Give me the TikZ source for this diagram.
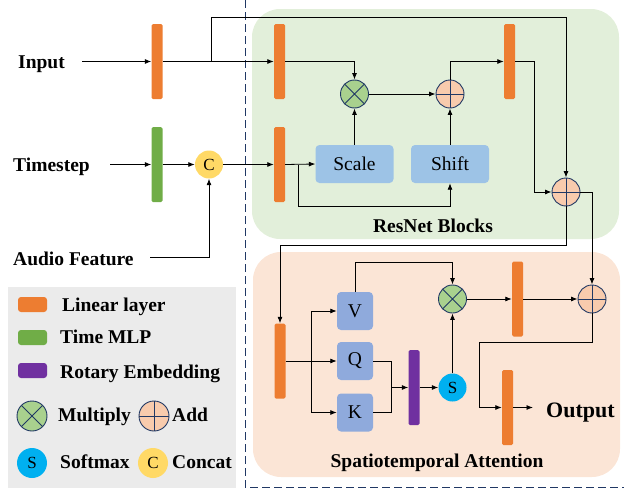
\documentclass[tikz,border=0pt]{standalone}
\usepackage{fontspec}
\setmainfont{Liberation Serif}
\usepackage{tikz}
\usetikzlibrary{arrows.meta}
\definecolor{linorange}{HTML}{ED7D31}
\definecolor{mlpgreen}{HTML}{70AD47}
\definecolor{ropepurple}{HTML}{7030A0}
\definecolor{boxblue}{HTML}{9DC3E6}
\definecolor{qkvblue}{HTML}{8FAADC}
\definecolor{mulgreen}{HTML}{A9D18E}
\definecolor{addpeach}{HTML}{F8CBAD}
\definecolor{smaxcyan}{HTML}{00B0F0}
\definecolor{catyellow}{HTML}{FFD966}
\definecolor{resbg}{HTML}{E2EFDA}
\definecolor{attbg}{HTML}{FBE5D6}
\definecolor{legbg}{HTML}{EBEBEB}
\definecolor{navyline}{HTML}{203864}

\tikzset{
  bar/.style={rectangle, rounded corners=1.5pt, minimum width=11pt, minimum height=75pt, inner sep=0pt, fill=#1},
  bar/.default=linorange,
  swatch/.style={rectangle, rounded corners=3pt, minimum width=29pt, minimum height=15pt, inner sep=0pt, fill=#1},
  mul/.style={circle, draw=navyline, line width=0.9pt, fill=mulgreen, minimum size=28pt, inner sep=0pt,
    path picture={\draw[navyline, line width=0.9pt] (path picture bounding box.center) +(45:16pt) -- +(225:16pt)
      (path picture bounding box.center) +(135:16pt) -- +(315:16pt);}},
  add/.style={circle, draw=navyline, line width=0.9pt, fill=addpeach, minimum size=28pt, inner sep=0pt,
    path picture={\draw[navyline, line width=0.9pt] (path picture bounding box.center) +(0:16pt) -- +(180:16pt)
      (path picture bounding box.center) +(90:16pt) -- +(270:16pt);}},
  dot/.style={circle, fill=#1, minimum size=28pt, inner sep=0pt, font=\fontsize{17}{19}\selectfont},
  opbox/.style={rectangle, rounded corners=4pt, fill=boxblue, minimum width=78pt, minimum height=38pt, inner sep=0pt, font=\fontsize{19.5}{22}\selectfont},
  qkv/.style={rectangle, rounded corners=4pt, fill=qkvblue, minimum width=36pt, minimum height=38pt, inner sep=0pt, font=\fontsize{19.5}{22}\selectfont},
  lbl/.style={inner sep=0pt, font=\bfseries\fontsize{19.5}{22}\selectfont},
  conn/.style={line width=0.8pt, >={Latex[length=6.5pt,width=5pt]}}
}

\begin{document}
\begin{tikzpicture}[x=1pt, y=-1pt]
\useasboundingbox (0,0) rectangle (624,490);
% backgrounds
\fill[resbg, rounded corners=28pt] (252,9) rectangle (619,239);
\fill[attbg, rounded corners=28pt] (253,252) rectangle (620,477);
\fill[legbg] (8,287) rectangle (236,488);
\draw[navyline, line width=0.9pt, dash pattern=on 8pt off 4pt] (245,0) -- (245,487) -- (624,487);

% inputs
\node[lbl, anchor=base west] (input) at (18,68) {Input};
\node[lbl, anchor=base west] (tstep) at (13,171) {Timestep};
\node[lbl, anchor=base west] (audio) at (13,265) {Audio Feature};
\coordinate (inputend) at (82,61.5);
\coordinate (tstepend) at (110,164.5);
\coordinate (audioend) at (150,257.5);
\node[bar] (lin0) at (157,61.5) {};
\node[bar=mlpgreen] (mlp) at (157,164.5) {};
\node[dot=catyellow] (cat) at (209,164.5) {C};

% ResNet blocks
\node[bar] (lin1) at (279.5,61.5) {};
\node[bar] (lin2) at (279.5,164.5) {};
\node[mul] (mul1) at (354.5,94) {};
\node[add] (add1) at (450,94) {};
\node[opbox] (scale) at (354.5,164) {Scale};
\node[opbox] (shift) at (450,164) {Shift};
\node[bar] (lin3) at (509.5,61.5) {};
\node[add] (add2) at (566,192) {};
\node[lbl, anchor=base] (resname) at (433,232) {ResNet Blocks};
\coordinate (skip) at (211,61.5);
\coordinate (sbranch) at (298,164.5);

% Spatiotemporal attention
\node[bar] (lin4) at (280,361) {};
\node[qkv] (v) at (355,311) {V};
\node[qkv] (q) at (355,361) {Q};
\node[qkv] (k) at (355,412.5) {K};
\coordinate (qbranch) at (311,361);
\coordinate (qkjoin) at (391,387.5);
\node[bar=ropepurple] (rope) at (414,387.5) {};
\node[dot=smaxcyan] (smax) at (452.5,387.5) {S};
\node[mul] (mul2) at (452.5,299) {};
\node[bar] (lin5) at (517.5,299) {};
\node[add] (add3) at (592,299) {};
\coordinate (outturn) at (479,342);
\node[bar] (lin6) at (507.5,407.5) {};
\coordinate (outend) at (533,407.5);
\node[lbl, anchor=base west, font=\bfseries\fontsize{22}{24}\selectfont] (output) at (546,417) {Output};
\node[lbl, anchor=base] (attname) at (437,467) {Spatiotemporal Attention};

% connectors
\begin{scope}[conn]
\draw[->] (inputend) -- (lin0.west);
\draw[->] (lin0.east) -- (lin1.west);
\draw[->] (skip) -- ++(0,-44.5) -| (add2.north);
\draw[->] (tstepend) -- (mlp.west);
\draw[->] (mlp.east) -- (cat.west);
\draw[->] (audioend) -| (cat.south);
\draw[->] (cat.east) -- (lin2.west);
\draw[->] (lin1.east) -| (mul1.north);
\draw[->] (lin2.east) -- (scale.west);
\draw[->] (sbranch) -- ++(0,41.5) -| (shift.south);
\draw[->] (scale.north) -- (mul1.south);
\draw[->] (shift.north) -- (add1.south);
\draw[->] (mul1.east) -- (add1.west);
\draw[->] (add1.north) |- (lin3.west);
\draw[->] (lin3.east) -- ++(19,0) |- (add2.west);
\draw[->] (add2.south) -- ++(0,39) -| (lin4.north);
\draw[->] (add2.east) -| (add3.north);
\draw[->] (lin4.east) -- (q.west);
\draw[->] (qbranch) |- (v.west);
\draw[->] (qbranch) |- (k.west);
\draw[->] (v.north) -- ++(0,-29) -| (mul2.north);
\draw (q.east) -| (qkjoin);
\draw (k.east) -| (qkjoin);
\draw[->] (qkjoin) -- (rope.west);
\draw[->] (rope.east) -- (smax.west);
\draw[->] (smax.north) -- (mul2.south);
\draw[->] (mul2.east) -- (lin5.west);
\draw[->] (lin5.east) -- (add3.west);
\draw[->] (add3.south) |- (outturn) |- (lin6.west);
\draw[->] (lin6.east) -- (outend);
\end{scope}

% legend
\node[swatch=linorange] (keylin) at (32.5,304.5) {};
\node[lbl, anchor=base west] (keylintxt) at (62,311) {Linear layer};
\node[swatch=mlpgreen] (keymlp) at (32.5,337.5) {};
\node[lbl, anchor=base west] (keymlptxt) at (60,343) {Time MLP};
\node[swatch=ropepurple] (keyrope) at (32.5,370.5) {};
\node[lbl, anchor=base west] (keyropetxt) at (60,378) {Rotary Embedding};
\node[mul, minimum size=30pt] (keymul) at (32,416) {};
\node[lbl, anchor=base west] (keymultxt) at (58,421) {Multiply};
\node[add, minimum size=30pt] (keyadd) at (154,416) {};
\node[lbl, anchor=base west] (keyaddtxt) at (172,421) {Add};
\node[dot=smaxcyan, minimum size=30pt] (keysmax) at (32,463) {S};
\node[lbl, anchor=base west] (keysmaxtxt) at (60,468) {Softmax};
\node[dot=catyellow, minimum size=30pt] (keycat) at (153,463) {C};
\node[lbl, anchor=base west] (keycattxt) at (172,468) {Concat};
\end{tikzpicture}
\end{document}
